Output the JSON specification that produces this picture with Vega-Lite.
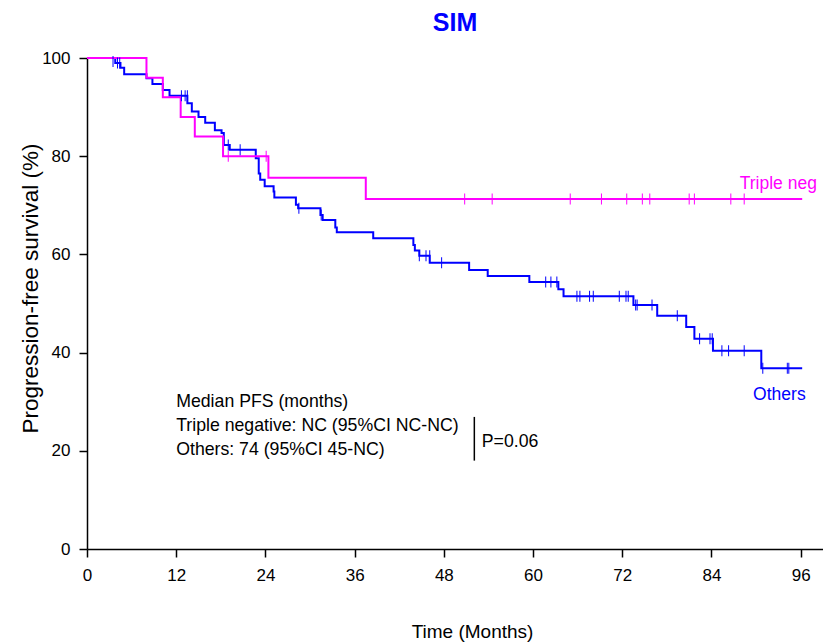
{
  "$schema": "https://vega.github.io/schema/vega-lite/v6.json",
  "width": 736,
  "height": 491,
  "autosize": {"type": "none"},
  "padding": {"left": 87, "top": 58, "right": 0, "bottom": 95},
  "background": "white",
  "config": {
    "view": {"stroke": null},
    "font": "Liberation Sans",
    "axis": {"grid": false, "domainColor": "black", "tickColor": "black", "domainWidth": 1.5, "tickWidth": 1.5, "tickSize": 8, "labelFont": "Liberation Sans", "labelFontSize": 17, "labelColor": "black", "titleFont": "Liberation Sans", "titleFontWeight": "normal", "titleFontSize": 19, "titleColor": "black", "labelPadding": 9, "labelFlush": false}
  },
  "title": {"text": "SIM", "color": "#0000FF", "fontSize": 25, "fontWeight": "bold", "font": "Liberation Sans", "offset": 13},
  "datasets": {
    "steps": [
      {"group": "Others", "t": 0, "s": 100},
      {"group": "Others", "t": 3.8, "s": 99.0},
      {"group": "Others", "t": 4.5, "s": 98.0},
      {"group": "Others", "t": 5.0, "s": 96.7},
      {"group": "Others", "t": 8.0, "s": 95.9},
      {"group": "Others", "t": 8.8, "s": 94.7},
      {"group": "Others", "t": 10.2, "s": 93.5},
      {"group": "Others", "t": 11.1, "s": 92.3},
      {"group": "Others", "t": 13.5, "s": 90.8},
      {"group": "Others", "t": 14.1, "s": 89.1},
      {"group": "Others", "t": 15.0, "s": 88.0},
      {"group": "Others", "t": 15.9, "s": 86.8},
      {"group": "Others", "t": 17.2, "s": 85.3},
      {"group": "Others", "t": 18.1, "s": 84.7},
      {"group": "Others", "t": 18.4, "s": 82.3},
      {"group": "Others", "t": 19.2, "s": 81.3},
      {"group": "Others", "t": 22.7, "s": 79.6},
      {"group": "Others", "t": 23.1, "s": 76.5},
      {"group": "Others", "t": 23.3, "s": 75.2},
      {"group": "Others", "t": 23.9, "s": 73.9},
      {"group": "Others", "t": 25.1, "s": 72.8},
      {"group": "Others", "t": 25.2, "s": 71.6},
      {"group": "Others", "t": 28.1, "s": 70.1},
      {"group": "Others", "t": 28.4, "s": 69.4},
      {"group": "Others", "t": 31.4, "s": 68.0},
      {"group": "Others", "t": 31.7, "s": 67.0},
      {"group": "Others", "t": 33.4, "s": 65.5},
      {"group": "Others", "t": 33.6, "s": 64.5},
      {"group": "Others", "t": 38.5, "s": 63.3},
      {"group": "Others", "t": 43.9, "s": 61.9},
      {"group": "Others", "t": 44.1, "s": 60.8},
      {"group": "Others", "t": 44.7, "s": 59.7},
      {"group": "Others", "t": 46.1, "s": 58.3},
      {"group": "Others", "t": 51.4, "s": 56.8},
      {"group": "Others", "t": 53.9, "s": 55.6},
      {"group": "Others", "t": 59.5, "s": 54.4},
      {"group": "Others", "t": 63.4, "s": 52.9},
      {"group": "Others", "t": 64.1, "s": 51.5},
      {"group": "Others", "t": 73.5, "s": 49.7},
      {"group": "Others", "t": 76.7, "s": 47.5},
      {"group": "Others", "t": 80.6, "s": 45.2},
      {"group": "Others", "t": 81.7, "s": 42.8},
      {"group": "Others", "t": 84.2, "s": 40.4},
      {"group": "Others", "t": 90.7, "s": 36.8},
      {"group": "Others", "t": 96.2, "s": 36.8},
      {"group": "Triple neg", "t": 0, "s": 100},
      {"group": "Triple neg", "t": 8.0, "s": 96},
      {"group": "Triple neg", "t": 10.2, "s": 92},
      {"group": "Triple neg", "t": 12.6, "s": 88},
      {"group": "Triple neg", "t": 14.5, "s": 84},
      {"group": "Triple neg", "t": 18.3, "s": 80},
      {"group": "Triple neg", "t": 24.4, "s": 75.6},
      {"group": "Triple neg", "t": 37.5, "s": 71.3},
      {"group": "Triple neg", "t": 96.2, "s": 71.3}
    ],
    "censors": [
      {"group": "Others", "t": 3.5, "s": 99.3},
      {"group": "Others", "t": 4.1, "s": 99.0},
      {"group": "Others", "t": 4.4, "s": 99.0},
      {"group": "Others", "t": 12.7, "s": 92.3},
      {"group": "Others", "t": 13.2, "s": 92.3},
      {"group": "Others", "t": 13.5, "s": 92.3},
      {"group": "Others", "t": 19.0, "s": 82.3},
      {"group": "Others", "t": 20.6, "s": 81.3},
      {"group": "Others", "t": 28.5, "s": 69.4},
      {"group": "Others", "t": 31.5, "s": 68.0},
      {"group": "Others", "t": 44.7, "s": 59.7},
      {"group": "Others", "t": 45.6, "s": 59.7},
      {"group": "Others", "t": 46.1, "s": 59.7},
      {"group": "Others", "t": 47.7, "s": 58.3},
      {"group": "Others", "t": 61.7, "s": 54.4},
      {"group": "Others", "t": 62.4, "s": 54.4},
      {"group": "Others", "t": 63.2, "s": 54.4},
      {"group": "Others", "t": 65.9, "s": 51.5},
      {"group": "Others", "t": 66.3, "s": 51.5},
      {"group": "Others", "t": 67.6, "s": 51.5},
      {"group": "Others", "t": 68.1, "s": 51.5},
      {"group": "Others", "t": 71.6, "s": 51.5},
      {"group": "Others", "t": 72.5, "s": 51.5},
      {"group": "Others", "t": 72.8, "s": 51.5},
      {"group": "Others", "t": 73.8, "s": 49.7},
      {"group": "Others", "t": 74.0, "s": 49.7},
      {"group": "Others", "t": 76.0, "s": 49.7},
      {"group": "Others", "t": 79.4, "s": 47.5},
      {"group": "Others", "t": 82.4, "s": 42.8},
      {"group": "Others", "t": 83.8, "s": 42.8},
      {"group": "Others", "t": 84.1, "s": 42.8},
      {"group": "Others", "t": 85.4, "s": 40.4},
      {"group": "Others", "t": 86.3, "s": 40.4},
      {"group": "Others", "t": 88.4, "s": 40.4},
      {"group": "Others", "t": 90.9, "s": 36.8},
      {"group": "Others", "t": 94.2, "s": 36.8},
      {"group": "Others", "t": 94.4, "s": 36.8},
      {"group": "Triple neg", "t": 19.0, "s": 80},
      {"group": "Triple neg", "t": 24.1, "s": 80},
      {"group": "Triple neg", "t": 50.8, "s": 71.3},
      {"group": "Triple neg", "t": 54.5, "s": 71.3},
      {"group": "Triple neg", "t": 65.0, "s": 71.3},
      {"group": "Triple neg", "t": 69.2, "s": 71.3},
      {"group": "Triple neg", "t": 72.6, "s": 71.3},
      {"group": "Triple neg", "t": 74.7, "s": 71.3},
      {"group": "Triple neg", "t": 75.7, "s": 71.3},
      {"group": "Triple neg", "t": 81.0, "s": 71.3},
      {"group": "Triple neg", "t": 81.7, "s": 71.3},
      {"group": "Triple neg", "t": 86.6, "s": 71.3},
      {"group": "Triple neg", "t": 88.4, "s": 71.3}
    ],
    "labels": [
      {"group": "Triple neg", "t": 87.8, "s": 73.4, "label": "Triple neg"},
      {"group": "Others", "t": 89.6, "s": 30.4, "label": "Others"}
    ],
    "notes": [
      {"t": 12.0, "s": 28.9, "label": "Median PFS (months)"},
      {"t": 12.0, "s": 24.1, "label": "Triple negative: NC (95%CI NC-NC)"},
      {"t": 12.0, "s": 19.2, "label": "Others: 74 (95%CI 45-NC)"},
      {"t": 53.1, "s": 20.7, "label": "P=0.06"}
    ]
  },
  "layer": [
    {
      "data": {"name": "steps"},
      "mark": {"type": "line", "interpolate": "step-after", "strokeWidth": 2},
      "encoding": {
        "x": {"field": "t", "type": "quantitative", "scale": {"domain": [0, 99], "nice": false, "zero": false}, "axis": {"values": [0, 12, 24, 36, 48, 60, 72, 84, 96], "title": "Time (Months)", "labelPadding": 10, "titleX": 385, "titleY": 88, "titleBaseline": "alphabetic", "titleAnchor": null, "titleAlign": "center"}},
        "y": {"field": "s", "type": "quantitative", "scale": {"domain": [0, 100], "nice": false}, "axis": {"values": [0, 20, 40, 60, 80, 100], "title": "Progression-free survival (%)", "titleFontSize": 22.5, "titleX": -50, "titleY": 230, "titleAngle": -90, "titleAlign": "center", "titleBaseline": "alphabetic"}},
        "color": {"field": "group", "type": "nominal", "scale": {"domain": ["Others", "Triple neg"], "range": ["#0000FF", "#FF00FF"]}, "legend": null},
        "order": {"field": "t"}
      }
    },
    {
      "data": {"name": "censors"},
      "mark": {"type": "tick", "orient": "vertical", "size": 11, "thickness": 1, "opacity": 1},
      "encoding": {
        "x": {"field": "t", "type": "quantitative"},
        "y": {"field": "s", "type": "quantitative"},
        "color": {"field": "group", "type": "nominal", "legend": null}
      }
    },
    {
      "data": {"name": "labels"},
      "mark": {"type": "text", "align": "left", "baseline": "alphabetic", "fontSize": 17.5},
      "encoding": {
        "x": {"field": "t", "type": "quantitative"},
        "y": {"field": "s", "type": "quantitative"},
        "text": {"field": "label"},
        "color": {"field": "group", "type": "nominal", "legend": null}
      }
    },
    {
      "data": {"name": "notes"},
      "mark": {"type": "text", "align": "left", "baseline": "alphabetic", "fontSize": 17.7, "color": "black"},
      "encoding": {
        "x": {"field": "t", "type": "quantitative"},
        "y": {"field": "s", "type": "quantitative"},
        "text": {"field": "label"}
      }
    },
    {
      "data": {"values": [{}]},
      "mark": {"type": "rule", "color": "black", "strokeWidth": 1.5},
      "encoding": {
        "x": {"datum": 52.1},
        "y": {"datum": 26.9},
        "y2": {"datum": 18.0}
      }
    }
  ]
}
